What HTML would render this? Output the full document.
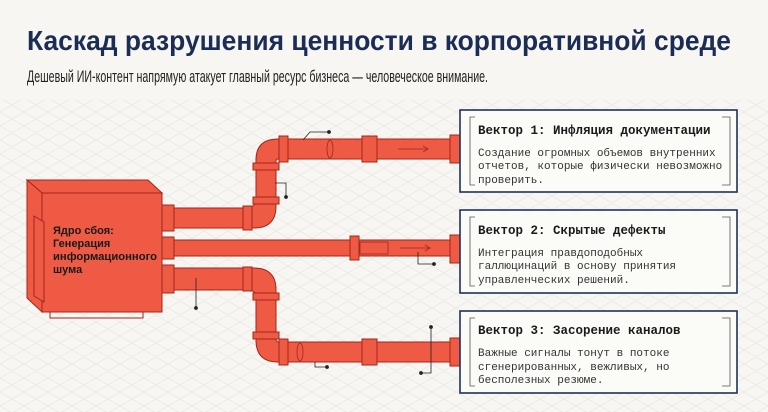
<!DOCTYPE html>
<html><head><meta charset="utf-8"><style>
html,body{margin:0;padding:0;background:#f7f6f2;}
svg{display:block;}
.t{font-family:"Liberation Sans",sans-serif;}
.m{font-family:"Liberation Mono",monospace;}
</style></head><body>
<svg width="768" height="412" viewBox="0 0 768 412" xmlns="http://www.w3.org/2000/svg">
<defs>
<pattern id="g" width="24" height="14" patternUnits="userSpaceOnUse">
<path d="M0 14 L24 0 M0 0 L24 14" stroke="#e6e5e0" stroke-width="0.6" fill="none"/>
</pattern>
</defs>
<rect width="768" height="412" fill="#f7f6f2"/>
<rect y="100" width="768" height="312" fill="url(#g)"/>
<text class="t" x="27" y="50" font-size="28" font-weight="bold" fill="#1b2d55" textLength="704" lengthAdjust="spacingAndGlyphs">Каскад разрушения ценности в корпоративной среде</text>
<text class="t" x="27" y="82" font-size="17" fill="#222" textLength="461" lengthAdjust="spacingAndGlyphs">Дешевый ИИ-контент напрямую атакует главный ресурс бизнеса — человеческое внимание.</text>

<g fill="#ef5a45" stroke="#a3261b" stroke-width="1">
<path d="M162 208 H246 Q256 208 256 198 V160 Q256 139 278 139 H460 V159 H278 Q276 159 276 161 V206 Q276 228 254 228 H162 Z"/>
<rect x="162" y="240" width="298" height="16"/>
<path d="M162 268 H254 Q276 268 276 290 V339 Q276 342 279 342 H460 V362 H278 Q256 362 256 340 V298 Q256 290 248 290 H162 Z"/>
<rect x="162" y="205" width="12" height="26"/>
<rect x="162" y="237" width="12" height="22"/>
<rect x="162" y="265" width="12" height="28"/>
<rect x="243" y="206" width="9" height="24"/>
<rect x="253" y="197" width="26" height="7"/>
<rect x="253" y="163" width="26" height="7"/>
<rect x="279" y="136" width="9" height="26"/>
<rect x="362" y="136" width="15" height="26"/>
<rect x="450" y="135" width="10" height="28"/>
<rect x="350" y="236" width="9" height="24"/>
<rect x="450" y="235" width="10" height="28"/>
<rect x="243" y="267" width="9" height="24"/>
<rect x="253" y="293" width="26" height="7"/>
<rect x="253" y="332" width="26" height="7"/>
<rect x="279" y="339" width="9" height="26"/>
<rect x="362" y="339" width="15" height="26"/>
<rect x="450" y="338" width="10" height="28"/>
<path d="M27 180 H148 L162 193 H42 Z"/>
<path d="M27 180 L42 193 V312 L27 298 Z"/>
<rect x="42" y="193" width="120" height="119"/>
<path d="M34 216 L44 222 V302 L34 296 Z"/>
</g>
<rect x="50" y="312" width="93" height="6" fill="none" stroke="#a3261b"/>
<g stroke="#a3261b" fill="none" stroke-width="0.8">
<line x1="398" y1="149" x2="428" y2="149"/><path d="M423 146 L428 149 L423 152"/>
<line x1="400" y1="248" x2="430" y2="248"/><path d="M425 245 L430 248 L425 251"/>
<rect x="360" y="242" width="28" height="12"/>
<ellipse cx="330" cy="149" rx="3" ry="9"/>
<ellipse cx="300" cy="352" rx="3" ry="9"/>
</g>
<g stroke="#222" stroke-width="0.8" fill="#222">
<path d="M303 140 L310 132 H329" fill="none"/><circle cx="329" cy="132" r="1.5"/>
<path d="M275 183 H286 V197" fill="none"/><circle cx="286" cy="197" r="1.5"/>
<path d="M418 252 V264 H434" fill="none"/><circle cx="434" cy="264" r="1.5"/>
<path d="M196 278 V308" fill="none"/><circle cx="196" cy="308" r="1.5"/>
<path d="M315 362 V367 H327" fill="none"/><circle cx="327" cy="367" r="1.5"/>
<path d="M431 327 V373 H421" fill="none"/><circle cx="431" cy="327" r="1.5"/><circle cx="421" cy="373" r="1.5"/>
</g>
<g class="t" font-size="11" font-weight="bold" fill="#1a1a1a">
<text x="53" y="234">Ядро сбоя:</text>
<text x="53" y="247">Генерация</text>
<text x="53" y="260" textLength="104" lengthAdjust="spacingAndGlyphs">информационного</text>
<text x="53" y="273">шума</text>
</g>
<g fill="#fbfbf8" stroke="#1f3358" stroke-width="1.6">
<rect x="460" y="110" width="277" height="82"/>
<rect x="460" y="210" width="277" height="83"/>
<rect x="460" y="311" width="277" height="82"/>
</g>
<g fill="none" stroke="#555" stroke-width="0.8">
<path d="M475 117 H470 V185 H475 M722 117 H730 V185 H722"/>
<path d="M475 217 H470 V286 H475 M722 217 H730 V286 H722"/>
<path d="M475 318 H470 V386 H475 M722 318 H730 V386 H722"/>
</g>
<g class="m" fill="#1a1a1a">
<text x="478" y="134" font-size="12.5" font-weight="bold">Вектор 1: Инфляция документации</text>
<text x="478" y="156" font-size="11" fill="#333">Создание огромных объемов внутренних</text>
<text x="478" y="169" font-size="11" fill="#333">отчетов, которые физически невозможно</text>
<text x="478" y="183" font-size="11" fill="#333">проверить.</text>
<text x="478" y="234" font-size="12.5" font-weight="bold">Вектор 2: Скрытые дефекты</text>
<text x="478" y="256" font-size="11" fill="#333">Интеграция правдоподобных</text>
<text x="478" y="269" font-size="11" fill="#333">галлюцинаций в основу принятия</text>
<text x="478" y="283" font-size="11" fill="#333">управленческих решений.</text>
<text x="478" y="334" font-size="12.5" font-weight="bold">Вектор 3: Засорение каналов</text>
<text x="478" y="356" font-size="11" fill="#333">Важные сигналы тонут в потоке</text>
<text x="478" y="370" font-size="11" fill="#333">сгенерированных, вежливых, но</text>
<text x="478" y="383" font-size="11" fill="#333">бесполезных резюме.</text>
</g>
</svg>
</body></html>
